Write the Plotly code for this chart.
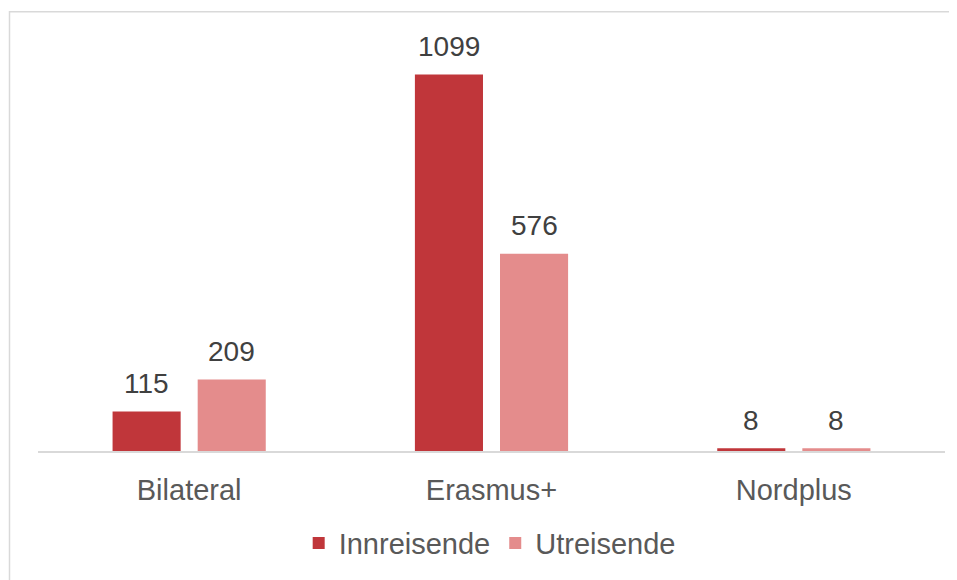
import plotly.graph_objects as go

categories = ["Bilateral", "Erasmus+", "Nordplus"]
innreisende = [115, 1099, 8]
utreisende = [209, 576, 8]
series_names = ["Innreisende", "Utreisende"]
colors = ["#C0363A", "#E48C8C"]

# page has 8px body margin -> figure drawn at (8,8)
W, H = 949, 572
L, R, T, B = 30, 12, 32, 125
pw, ph = W - L - R, H - T - B
base = T + ph

fig = go.Figure()
for name, vals, col in zip(series_names, [innreisende, utreisende], colors):
    fig.add_bar(x=categories, y=vals, name=name, marker_color=col,
                marker_line_width=0)

bargap, bargroupgap = 0.437, 0.2
slot = pw / len(categories) * (1 - bargap) / 2
annotations = []
for i, vals in enumerate([innreisende, utreisende]):
    xs = (i - 0.5) * slot
    for c, v in zip(categories, vals):
        annotations.append(dict(x=c, y=v, xref="x", yref="y", text=str(v),
                                showarrow=False, xshift=xs, yshift=28,
                                yanchor="middle",
                                font=dict(size=28, color="#404040")))

fig.update_layout(
    width=W, height=H,
    margin=dict(l=L, r=R, t=T, b=B),
    paper_bgcolor="white", plot_bgcolor="white",
    font=dict(family="Liberation Sans, Arial, sans-serif", color="#595959", size=29),
    barmode="group", bargap=bargap, bargroupgap=bargroupgap,
    xaxis=dict(showgrid=False, showline=True, linecolor="#D9D9D9", linewidth=1.5,
               ticks="", tickfont=dict(size=29, color="#595959"), ticklabelstandoff=12),
    yaxis=dict(range=[0, 1200], visible=False),
    legend=dict(orientation="h", x=0.498, xanchor="center", y=(base - 540) / ph, yanchor="middle",
                font=dict(size=29, color="#595959"), itemwidth=30, traceorder="normal"),
    annotations=annotations,
    shapes=[dict(type="rect", xref="paper", yref="paper",
                 x0=(1.5 - L) / pw, x1=(W + 20 - L) / pw,
                 y0=-(H + 20 - base) / ph, y1=(base - 3.5) / ph,
                 line=dict(color="#D9D9D9", width=1.5), fillcolor="rgba(0,0,0,0)", layer="below")],
)

fig.write_html("out.html")
